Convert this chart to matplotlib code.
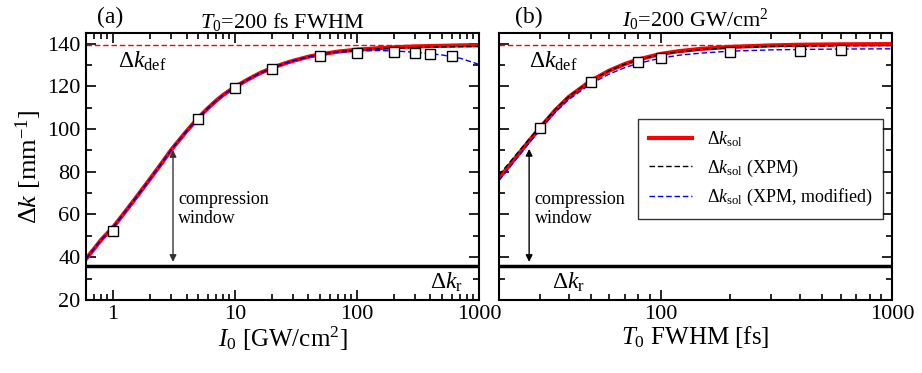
import numpy as np
import matplotlib
matplotlib.use("Agg")
import matplotlib.pyplot as plt
from matplotlib.ticker import LogLocator, MultipleLocator, FixedLocator, NullFormatter

plt.rcParams['font.family'] = ['Liberation Serif', 'DejaVu Serif']
plt.rcParams['mathtext.fontset'] = 'custom'
plt.rcParams['mathtext.rm'] = 'Liberation Serif'
plt.rcParams['mathtext.it'] = 'Liberation Serif:italic'

# panel (a): intensity scan, T0 = 200 fs
I0_curve = [0.6, 0.7, 0.8, 1, 1.2, 1.5, 2, 2.5, 3, 4, 5, 6, 7, 8, 10, 13, 16, 20, 25, 30,
            40, 50, 70, 100, 150, 200, 300, 400, 500, 700, 1000]
dk_sol_a = [39.2, 44.0, 48.2, 54.0, 59.8, 67.0, 76.5, 84.0, 90.3, 99.0, 105.3, 109.8, 113.3, 116.0,
            119.8, 123.5, 126.2, 128.6, 130.6, 132.0, 133.9, 135.0, 136.3, 137.2, 137.9, 138.3,
            138.7, 138.9, 139.0, 139.2, 139.3]
dk_xpm_a = [39.2, 44.0, 48.2, 54.0, 59.8, 67.0, 76.5, 84.0, 90.3, 99.0, 105.3, 109.8, 113.3, 116.0,
            119.8, 123.5, 126.2, 128.6, 130.6, 132.0, 133.9, 135.0, 136.2, 137.0, 137.6, 137.9,
            138.2, 138.4, 138.5, 138.6, 138.7]
dk_mod_a = [39.2, 44.0, 48.2, 54.0, 59.8, 67.0, 76.5, 84.0, 90.3, 99.0, 105.3, 109.8, 113.3, 116.0,
            119.8, 123.5, 126.2, 128.6, 130.6, 132.0, 133.8, 134.9, 136.0, 136.5, 136.8, 136.6,
            136.0, 135.3, 134.7, 133.2, 130.3]
I0_sim = [1, 5, 10, 20, 50, 100, 200, 300, 400, 600]
dk_sim_a = [52.3, 104.7, 119.4, 128.2, 134.1, 135.7, 136.0, 135.6, 135.3, 134.2]

# panel (b): duration scan, I0 = 200 GW/cm2
T0_curve = [20, 22, 25, 27, 30, 35, 40, 50, 60, 70, 80, 100, 120, 150, 200, 300, 400, 600, 1000]
dk_sol_b = [77.0, 82.5, 90.0, 94.5, 100.5, 108.8, 115.0, 122.7, 127.4, 130.5, 132.6, 135.2, 136.5,
            137.6, 138.5, 139.2, 139.5, 139.7, 139.8]
dk_xpm_b = [78.5, 83.8, 91.0, 95.3, 101.0, 109.2, 115.2, 122.8, 127.4, 130.4, 132.5, 135.0, 136.2,
            137.2, 138.1, 138.7, 138.9, 139.0, 139.1]
dk_mod_b = [76.0, 81.5, 89.0, 93.5, 99.5, 107.8, 113.8, 121.3, 125.8, 128.8, 130.8, 133.2, 134.6,
            135.6, 136.5, 137.1, 137.3, 137.5, 137.6]
T0_sim = [30, 50, 80, 100, 200, 400, 600]
dk_sim_b = [100.6, 122, 131.2, 133.4, 136.1, 136.7, 137.2]

dk_def = 139.5
dk_r = 36

fig = plt.figure(figsize=(9.22, 3.73), dpi=100)
axa = fig.add_axes([0.0933, 0.196, 0.4262, 0.7155])
axb = fig.add_axes([0.5412, 0.196, 0.4263, 0.7155])

def style(ax, xmin, xmax):
    ax.set_xscale('log')
    ax.set_xlim(xmin, xmax)
    ax.set_ylim(20, 145)
    ax.yaxis.set_major_locator(MultipleLocator(20))
    ax.yaxis.set_minor_locator(MultipleLocator(10))
    ax.xaxis.set_minor_locator(LogLocator(base=10, subs=np.arange(2, 10)))
    ax.xaxis.set_minor_formatter(NullFormatter())
    ax.tick_params(which='both', direction='in', top=True, right=True, width=1.2, labelsize=16)
    ax.tick_params(which='major', length=7, pad=4)
    ax.tick_params(which='minor', length=4)
    for s in ax.spines.values():
        s.set_linewidth(1.5)

# panel (a)
ax = axa
ax.axhline(dk_def, color='red', ls='--', lw=1.0, dashes=(4, 2))
ax.axhline(dk_r, color='black', lw=2.5)
ax.plot(I0_curve, dk_sol_a, color='red', lw=3)
ax.plot(I0_curve, dk_xpm_a, color='black', ls='--', lw=1.0, dashes=(4, 2))
ax.plot(I0_curve, dk_mod_a, color='blue', ls='--', lw=1.0, dashes=(4, 2))
ax.plot(I0_sim, dk_sim_a, 's', mfc='white', mec='black', ms=7, mew=1.0)
ax.annotate('', xy=(3.1, 36.5), xytext=(3.1, 91.5),
            arrowprops=dict(arrowstyle='<|-|>', color='#333333', lw=1.0, mutation_scale=10))
ax.text(3.4, 62.5, 'compression\nwindow', fontsize=13, va='center', ha='left', linespacing=1.15)
ax.text(1.1, 131.5, r'$\Delta k_{\rm def}$', fontsize=17, ha='left', va='center')
ax.text(400, 28, r'$\Delta k_{\rm r}$', fontsize=17, ha='left', va='center')
style(ax, 0.6, 1000)
ax.xaxis.set_major_locator(FixedLocator([1, 10, 100, 1000]))
ax.set_xticklabels(['1', '10', '100', '1000'])
ax.set_xlabel(r'$I_0$ [GW/cm$^2$]', fontsize=18, labelpad=0)
ax.set_ylabel(r'$\Delta k$ [mm$^{-1}$]', fontsize=19, labelpad=2)
ax.set_title(r'$T_0$=200 fs FWHM', fontsize=16, pad=3)
ax.text(0.027, 1.02, '(a)', transform=ax.transAxes, fontsize=17, ha='left', va='bottom')

# panel (b)
ax = axb
ax.axhline(dk_def, color='red', ls='--', lw=1.0, dashes=(4, 2))
ax.axhline(dk_r, color='black', lw=2.5)
ax.plot(T0_curve, dk_sol_b, color='red', lw=3, label=r'$\Delta k_{\rm sol}$')
ax.plot(T0_curve, dk_xpm_b, color='black', ls='--', lw=1.0, dashes=(4, 2),
        label=r'$\Delta k_{\rm sol}$ (XPM)')
ax.plot(T0_curve, dk_mod_b, color='blue', ls='--', lw=1.0, dashes=(4, 2),
        label=r'$\Delta k_{\rm sol}$ (XPM, modified)')
ax.plot(T0_sim, dk_sim_b, 's', mfc='white', mec='black', ms=7, mew=1.0)
ax.annotate('', xy=(27, 36.5), xytext=(27, 92),
            arrowprops=dict(arrowstyle='<|-|>', color='black', lw=1.0, mutation_scale=10))
ax.text(28.5, 62.5, 'compression\nwindow', fontsize=13, va='center', ha='left', linespacing=1.15)
ax.text(27, 131.5, r'$\Delta k_{\rm def}$', fontsize=17, ha='left', va='center')
ax.text(34, 28, r'$\Delta k_{\rm r}$', fontsize=17, ha='left', va='center')
style(ax, 20, 1000)
ax.xaxis.set_major_locator(FixedLocator([100, 1000]))
ax.set_xticklabels(['100', '1000'])
ax.set_yticklabels([])
ax.set_xlabel(r'$T_0$ FWHM [fs]', fontsize=18, labelpad=0)
ax.set_title(r'$I_0$=200 GW/cm$^2$', fontsize=16, pad=3)
ax.text(0.04, 1.02, '(b)', transform=ax.transAxes, fontsize=17, ha='left', va='bottom')
leg = ax.legend(loc='upper left', bbox_to_anchor=(0.354, 0.678), borderaxespad=0, fontsize=13,
                frameon=True, fancybox=False, edgecolor='black', handlelength=2.4,
                borderpad=0.6, labelspacing=0.45)
leg.get_frame().set_linewidth(1.0)

fig.savefig('out.png', dpi=100)
